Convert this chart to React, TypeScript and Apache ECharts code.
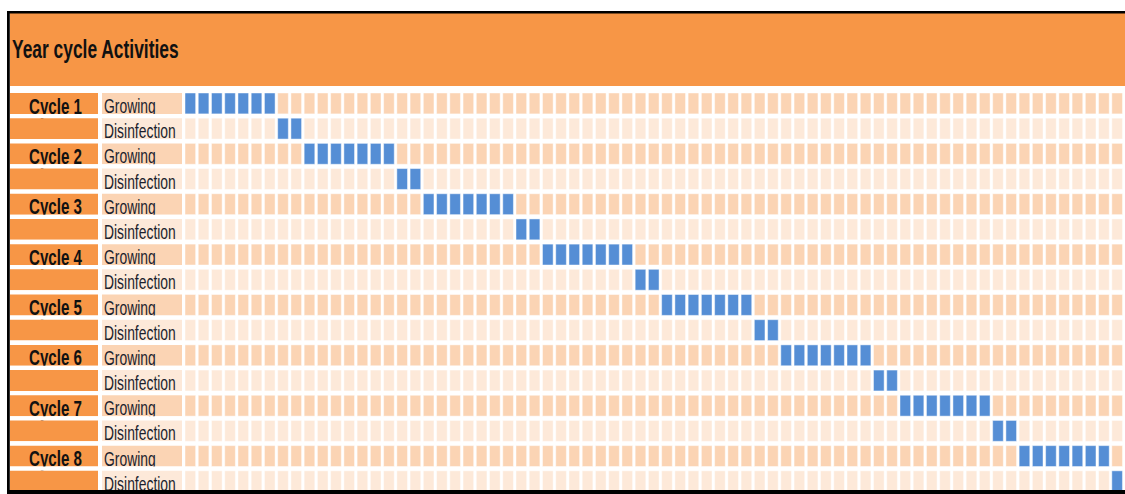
import React, { useEffect, useRef } from "react";
import * as echarts from "echarts";

// ---- data ----
const title = "Year cycle Activities";
const cycles = ["Cycle 1", "Cycle 2", "Cycle 3", "Cycle 4", "Cycle 5", "Cycle 6", "Cycle 7", "Cycle 8"];
const activities = ["Growing", "Disinfection"];
const periods = Array.from({ length: 72 }, (_, i) => `P${i + 1}`);
// active period ranges (column indices, inclusive) for each cycle
const growingStart = [0, 9, 18, 27, 36, 45, 54, 63];
const growingEnd = [6, 15, 24, 33, 42, 51, 60, 69];
const disinfectionStart = [7, 16, 25, 34, 43, 52, 61, 70];
const disinfectionEnd = [8, 17, 26, 35, 44, 53, 62, 71];

// ---- styles ----
const ORANGE = "#F79646";
const PEACH = "#FBD4B4";
const LIGHT = "#FDE9D9";
const BLUE = "#558ED5";
const FONT = '"Liberation Sans", Arial, sans-serif';

const rowLabels: string[] = [];
const rowCycle: number[] = [];
const rowAct: number[] = [];
cycles.forEach((c, ci) => {
  activities.forEach((a, ai) => {
    rowLabels.push(`${c} ${a}`);
    rowCycle.push(ci);
    rowAct.push(ai);
  });
});

const cellData: number[][] = [];
rowLabels.forEach((_, r) => {
  const ci = rowCycle[r];
  const s = rowAct[r] === 0 ? growingStart[ci] : disinfectionStart[ci];
  const e = rowAct[r] === 0 ? growingEnd[ci] : disinfectionEnd[ci];
  periods.forEach((_, c) => {
    cellData.push([c, r, c >= s && c <= e ? 1 : 0]);
  });
});
const labelData = rowLabels.map((_, r) => [0, r]);

export default function App() {
  const ref = useRef<HTMLDivElement>(null);
  useEffect(() => {
    if (!ref.current) return;
    const chart = echarts.init(ref.current, null, { renderer: "svg" });
    const option: any = {
      animation: false,
      backgroundColor: "#ffffff",
      grid: { left: 184, top: 91, width: 953.3, height: 405.3 },
      xAxis: { type: "category", data: periods, show: false },
      yAxis: { type: "category", data: rowLabels, inverse: true, show: false },
      graphic: [
        { type: "rect", shape: { x: 10, y: 13, width: 1135, height: 73 }, style: { fill: ORANGE }, z: 1 },
        {
          type: "text",
          x: 12,
          y: 49,
          scaleY: 1.44,
          z: 5,
          style: {
            text: title,
            font: `bold 17.4px ${FONT}`,
            fill: "#111111",
            textAlign: "left",
            textVerticalAlign: "middle",
          },
        },
        { type: "rect", shape: { x: 7, y: 11, width: 1140, height: 2.5 }, style: { fill: "#000" }, z: 100 },
        { type: "rect", shape: { x: 7, y: 11, width: 2.8, height: 483 }, style: { fill: "#000" }, z: 100 },
        { type: "rect", shape: { x: 7, y: 490, width: 1140, height: 4 }, style: { fill: "#000" }, z: 100 },
      ],
      series: [
        {
          type: "custom",
          clip: false,
          data: cellData,
          renderItem: (params: any, api: any) => {
            const col = api.value(0);
            const row = api.value(1);
            const on = api.value(2);
            const [cx, cy] = api.coord([col, row]);
            const [bw, bh] = api.size([1, 1]);
            return {
              type: "rect",
              shape: { x: cx - bw / 2 + 1, y: cy - bh / 2 + 2, width: bw - 2.6, height: bh - 4.3 },
              style: {
                fill: on ? BLUE : rowAct[row] === 0 ? PEACH : LIGHT,
                stroke: "rgba(255,255,255,0.45)",
                lineWidth: 1,
              },
            };
          },
        },
        {
          type: "custom",
          clip: false,
          data: labelData,
          renderItem: (params: any, api: any) => {
            const row = api.value(1);
            const [, cy] = api.coord([0, row]);
            const bh = api.size([1, 1])[1];
            const top = cy - bh / 2 + 2;
            const h = bh - 4.3;
            const act = rowAct[row];
            const children: any[] = [
              { type: "rect", shape: { x: 10, y: top, width: 88, height: h }, style: { fill: ORANGE } },
              { type: "rect", shape: { x: 102, y: top, width: 80, height: h }, style: { fill: act === 0 ? PEACH : LIGHT } },
            ];
            if (act === 0) {
              children.push({
                type: "text",
                x: 55.5,
                y: top + 13,
                scaleY: 1.42,
                style: {
                  text: cycles[rowCycle[row]],
                  font: `bold 15.1px ${FONT}`,
                  fill: "#111111",
                  textAlign: "center",
                  textVerticalAlign: "middle",
                },
              });
            }
            children.push({
              type: "text",
              x: 104,
              y: top + 13,
              scaleY: 1.5,
              style: {
                text: activities[act],
                font: `13.9px ${FONT}`,
                fill: "#1c1f2e",
                textAlign: "left",
                textVerticalAlign: "middle",
              },
            });
            children.push({
              type: "rect",
              shape: { x: 10, y: top + h, width: 174, height: 4.3 },
              style: { fill: "#ffffff" },
            });
            return { type: "group", children };
          },
        },
      ],
    };
    chart.setOption(option);
    return () => chart.dispose();
  }, []);
  return (
    <div style={{ position: "absolute", left: 0, top: 0, width: 1125, height: 494, overflow: "hidden" }}>
      <div ref={ref} style={{ position: "absolute", left: 0, top: 0, width: 1140, height: 494 }} />
    </div>
  );
}
